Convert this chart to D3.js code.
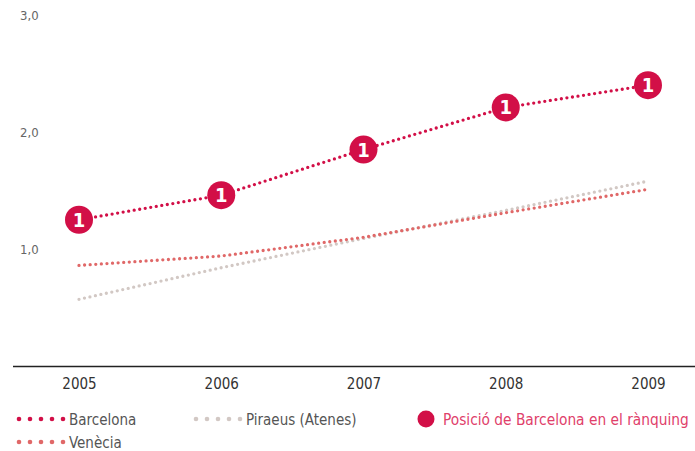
<!DOCTYPE html>
<html>
<head>
<meta charset="utf-8">
<script src="https://cdn.jsdelivr.net/npm/d3@7"></script>
<style>
  body { margin: 0; background: #fff; }
  svg text { font-family: "DejaVu Sans Condensed", "Liberation Sans Narrow", "Roboto", sans-serif; }
</style>
</head>
<body>
<div id="chart"></div>
<script>
const years = [2005, 2006, 2007, 2008, 2009];
const barcelona = [1.25, 1.46, 1.85, 2.21, 2.40];
const venecia = [0.86, 0.94, 1.10, 1.31, 1.51];
const piraeus = [0.57, 0.84, 1.09, 1.33, 1.58];
const ranking = [1, 1, 1, 1, 1];
const yTicks = [1, 2, 3];

const series = [
  { name: "Barcelona", values: barcelona, color: "#d20f47" },
  { name: "Venècia", values: venecia, color: "#e06868" },
  { name: "Piraeus (Atenes)", values: piraeus, color: "#d2c8c4" },
];

const width = 695;
const height = 451;

const svg = d3
  .select("#chart")
  .append("svg")
  .attr("width", width)
  .attr("height", height);

const xScale = d3.scalePoint().domain(years).range([79, 648]);
const yScale = d3.scaleLinear().domain([0, 3]).range([366, 15]);

// y labels (no axis line)
svg
  .selectAll(".ylab")
  .data(yTicks)
  .enter()
  .append("text")
  .attr("x", 20)
  .attr("y", (d) => yScale(d) + 5)
  .attr("font-size", "13px")
  .attr("fill", "#666")
  .text((d) => d3.format(".1f")(d).replace(".", ","));

// x axis
const xAxis = d3.axisBottom(xScale).tickSize(0).tickPadding(12);
svg
  .append("g")
  .attr("transform", `translate(0,${yScale(0)})`)
  .call(xAxis)
  .call((g) => g.select(".domain").attr("d", "M13,0.5H695").attr("stroke", "#222").attr("stroke-width", 1.5))
  .call((g) =>
    g.selectAll(".tick text").attr("font-size", "15px").attr("fill", "#333")
      .style("font-family", '"DejaVu Sans Condensed", "Liberation Sans Narrow", sans-serif')
  );

const line = d3
  .line()
  .x((d, i) => xScale(years[i]))
  .y((d) => yScale(d));

// draw order: piraeus, venecia, barcelona
[series[2], series[1], series[0]].forEach((s) => {
  svg
    .append("path")
    .datum(s.values)
    .attr("fill", "none")
    .attr("stroke", s.color)
    .attr("stroke-width", 3.3)
    .attr("stroke-linecap", "round")
    .attr("stroke-dasharray", "0,5.6")
    .attr("d", line);
});

// ranking circles
const marks = svg
  .selectAll(".rank")
  .data(barcelona)
  .enter()
  .append("g")
  .attr("transform", (d, i) => `translate(${xScale(years[i])},${yScale(d)})`);

marks.append("circle").attr("r", 14).attr("fill", "#d20f47");
marks
  .append("text")
  .attr("text-anchor", "middle")
  .attr("y", 7)
  .attr("font-size", "20px")
  .attr("font-weight", "bold")
  .attr("fill", "#fff")
  .text((d, i) => ranking[i]);

// legend
const legendItems = [
  { s: series[0], x: 16, y: 419 },
  { s: series[2], x: 193, y: 419 },
  { s: series[1], x: 16, y: 442 },
];

legendItems.forEach((l) => {
  svg
    .selectAll(null)
    .data(d3.range(5))
    .enter()
    .append("circle")
    .attr("cx", (i) => l.x + 3 + i * 11)
    .attr("cy", l.y)
    .attr("r", 2.3)
    .attr("fill", l.s.color);
  svg
    .append("text")
    .attr("x", l.x + 53)
    .attr("y", l.y + 5.5)
    .attr("font-size", "15px")
    .attr("fill", "#555")
    .text(l.s.name);
});

svg
  .append("circle")
  .attr("cx", 426)
  .attr("cy", 419)
  .attr("r", 8.5)
  .attr("fill", "#d20f47");
svg
  .append("text")
  .attr("x", 443)
  .attr("y", 424.5)
  .attr("font-size", "15.3px")
  .attr("fill", "#e0406a")
  .text("Posició de Barcelona en el rànquing");
</script>
</body>
</html>
